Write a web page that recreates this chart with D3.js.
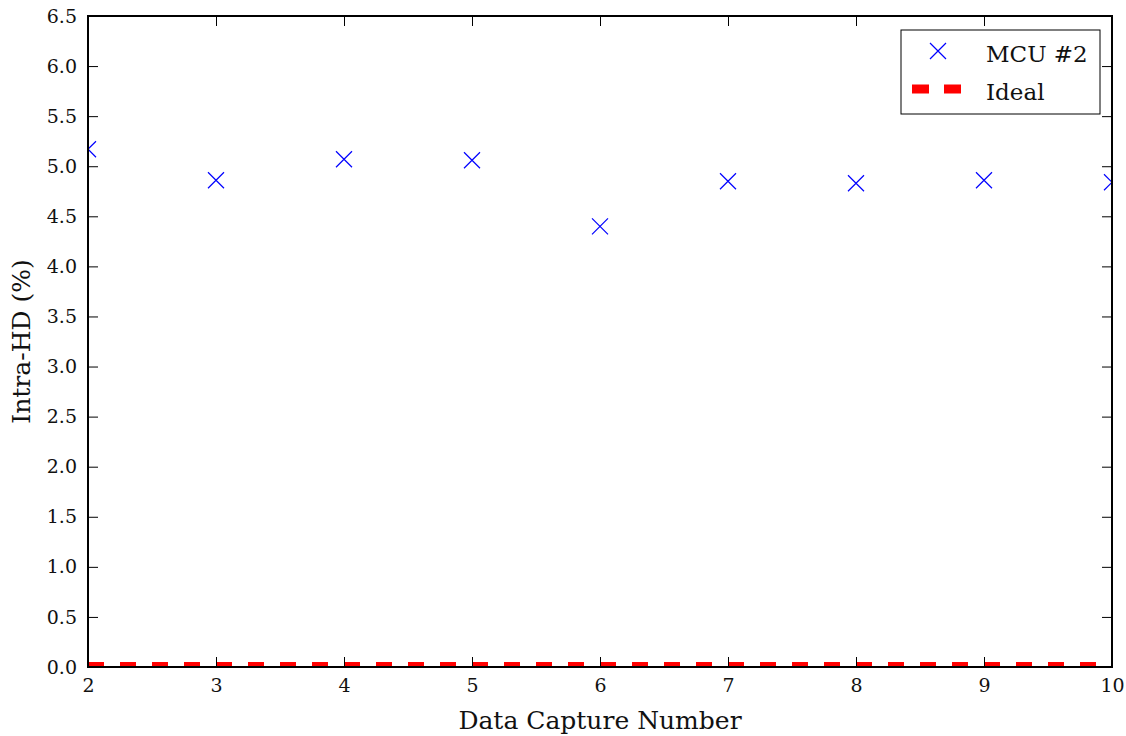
<!DOCTYPE html>
<html>
<head>
<meta charset="utf-8">
<script src="https://cdn.jsdelivr.net/npm/d3@7/dist/d3.min.js"></script>
<style>
  html, body { margin: 0; padding: 0; background: #fff; }
  svg { display: block; font-family: "DejaVu Serif", serif; }
</style>
</head>
<body>
<svg id="chart" width="1126" height="736"></svg>
<script>
// Capture numbers and the measured intra-HD for MCU #2
const captures = [2, 3, 4, 5, 6, 7, 8, 9, 10];
const mcu2 = [5.17, 4.86, 5.07, 5.06, 4.40, 4.85, 4.83, 4.86, 4.84];
const ideal = [0, 0, 0, 0, 0, 0, 0, 0, 0];
const xTicks = [2, 3, 4, 5, 6, 7, 8, 9, 10];
const yTicks = [0, 0.5, 1, 1.5, 2, 2.5, 3, 3.5, 4, 4.5, 5, 5.5, 6, 6.5];
const seriesNames = ["MCU #2", "Ideal"];

const svg = d3.select("#chart");
const m = { left: 88, top: 16, right: 14, bottom: 69 };
const W = 1126, H = 736;
const pw = W - m.left - m.right, ph = H - m.top - m.bottom;

const x = d3.scaleLinear().domain([2, 10]).range([m.left, m.left + pw]);
const y = d3.scaleLinear().domain([0, 6.5]).range([m.top + ph, m.top]);

svg.append("defs").append("clipPath").attr("id", "plotClip")
  .append("rect").attr("x", m.left).attr("y", m.top).attr("width", pw).attr("height", ph);

const plot = svg.append("g").attr("clip-path", "url(#plotClip)");

// Ideal reference line (dashed red)
plot.append("path")
  .datum(captures.map((c, i) => [c, ideal[i]]))
  .attr("d", d3.line().x(d => x(d[0])).y(d => y(d[1])))
  .attr("fill", "none").attr("stroke", "#ff0000")
  .attr("stroke-width", 10).attr("stroke-dasharray", "16,16");

// MCU #2 x markers
const mk = 8;
const xMark = `M${-mk},${-mk}L${mk},${mk}M${-mk},${mk}L${mk},${-mk}`;
plot.selectAll(".pt").data(captures.map((c, i) => [c, mcu2[i]])).enter()
  .append("path").attr("class", "pt")
  .attr("transform", d => `translate(${x(d[0])},${y(d[1])})`)
  .attr("d", xMark).attr("stroke", "#0000ff").attr("stroke-width", 1.2).attr("fill", "none");

// Axes with inward ticks on all four sides
const tickLen = 10;
const fmtY = d3.format(".1f");
const axB = svg.append("g").attr("transform", `translate(0,${m.top + ph})`)
  .call(d3.axisBottom(x).tickValues(xTicks).tickSizeInner(-tickLen).tickSizeOuter(0).tickPadding(12).tickFormat(d3.format("d")));
const axT = svg.append("g").attr("transform", `translate(0,${m.top})`)
  .call(d3.axisTop(x).tickValues(xTicks).tickSizeInner(-tickLen).tickSizeOuter(0).tickFormat(""));
const axL = svg.append("g").attr("transform", `translate(${m.left},0)`)
  .call(d3.axisLeft(y).tickValues(yTicks).tickSizeInner(-tickLen).tickSizeOuter(0).tickPadding(11).tickFormat(fmtY));
const axR = svg.append("g").attr("transform", `translate(${m.left + pw},0)`)
  .call(d3.axisRight(y).tickValues(yTicks).tickSizeInner(-tickLen).tickSizeOuter(0).tickFormat(""));

[axB, axT, axL, axR].forEach(a => {
  a.attr("font-family", "DejaVu Serif, serif").attr("font-size", 19);
  a.select(".domain").remove();
  a.selectAll(".tick line").attr("stroke", "#000").attr("stroke-width", 1);
  a.selectAll("text").attr("fill", "#111");
});

// Frame
svg.append("rect").attr("x", m.left).attr("y", m.top).attr("width", pw).attr("height", ph)
  .attr("fill", "none").attr("stroke", "#000").attr("stroke-width", 2);

// Axis titles
svg.append("text").attr("x", m.left + pw / 2).attr("y", 729).attr("text-anchor", "middle")
  .attr("font-size", 25).attr("fill", "#111").text("Data Capture Number");
svg.append("text").attr("transform", `translate(30,${m.top + ph / 2}) rotate(-90)`)
  .attr("text-anchor", "middle").attr("font-size", 25).attr("fill", "#111").text("Intra-HD (%)");

// Legend
const lg = svg.append("g").attr("transform", "translate(901,30)");
lg.append("rect").attr("width", 199).attr("height", 84).attr("fill", "#fff")
  .attr("stroke", "#000").attr("stroke-width", 1);
lg.append("path").attr("transform", "translate(37,21)").attr("d", xMark)
  .attr("stroke", "#0000ff").attr("stroke-width", 1.2).attr("fill", "none");
lg.append("line").attr("x1", 11).attr("x2", 60).attr("y1", 59).attr("y2", 59)
  .attr("stroke", "#ff0000").attr("stroke-width", 9).attr("stroke-dasharray", "17,15");
lg.selectAll(".lt").data(seriesNames).enter().append("text").attr("class", "lt")
  .attr("x", 85).attr("y", (d, i) => 32 + i * 38)
  .attr("font-size", 23).attr("fill", "#111").text(d => d);
</script>
</body>
</html>
